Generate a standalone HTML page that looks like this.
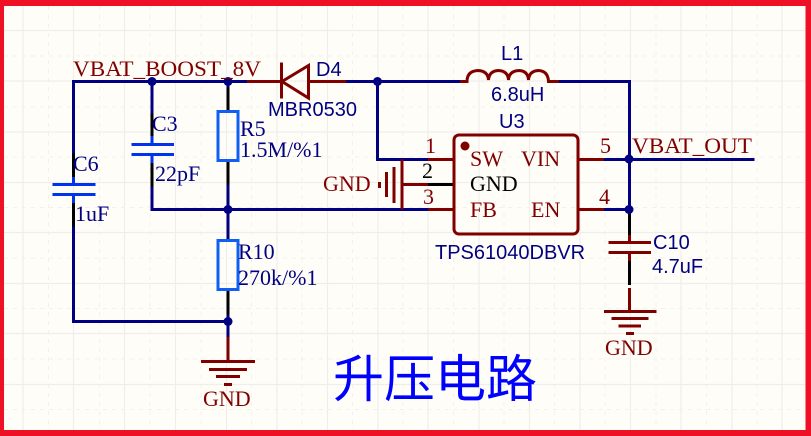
<!DOCTYPE html>
<html><head><meta charset="utf-8">
<style>
html,body{margin:0;padding:0;width:811px;height:436px;overflow:hidden;background:#FFFDF8}
svg{display:block}
.s{font-family:"Liberation Serif",serif;font-size:22px}
.a{font-family:"Liberation Sans",sans-serif;font-size:20px;fill:#000080}
.r{fill:#800000}.b{fill:#000080}
</style></head><body>
<svg width="811" height="436" viewBox="0 0 811 436" xmlns="http://www.w3.org/2000/svg">
<rect width="811" height="436" fill="#FFFDF8"/>
<g stroke="#F2F1EC" stroke-width="1" fill="none" stroke-dasharray="4 5">
<path d="M48.500 6V430M99.500 6V430M150 6V430M201 6V430M251.500 6V430M302 6V430M352.500 6V430M403 6V430M453.500 6V430M504 6V430M554.500 6V430M605 6V430M656 6V430M706.500 6V430M757 6V430"/>
<path d="M4 56H805M4 107H805M4 157H805M4 207.500H805M4 258H805M4 308.500H805M4 359H805M4 409.500H805"/>
</g>
<g stroke="#EFEEEA" stroke-width="1.200" fill="none">
<path d="M23 6V430M73.500 6V430M124.500 6V430M175.500 6V430M226.500 6V430M277 6V430M327.500 6V430M378 6V430M428 6V430M479 6V430M529.500 6V430M580 6V430M630.500 6V430M681 6V430M732 6V430M782 6V430"/>
<path d="M4 30.500H805M4 81H805M4 132H805M4 182.500H805M4 232.500H805M4 283.500H805M4 333.500H805M4 384.500H805"/>
</g>
<!-- black pin segments -->
<g stroke="#000" stroke-width="3" fill="none">
<path d="M73.500 152V183M73.500 197V227"/>
<path d="M152 112V143M152 157V188"/>
<path d="M228 86V111M228 161V186"/>
<path d="M228 237V241M228 290V316"/>
<path d="M629.500 213V241M629.500 260V285"/>
<path d="M428 184.500H454"/>
</g>
<!-- wires -->
<g stroke="#000080" stroke-width="3" fill="none" stroke-linecap="square">
<path d="M73.500 152V81.500H247"/>
<path d="M73.500 228V321.500H228"/>
<path d="M152 81.500V112M152 188V209.500H428"/>
<path d="M228 81.500V86M228 186V237M228 316V337"/>
<path d="M346 81.500H460M377.500 81.500V159.500H428"/>
<path d="M559 81.500H629.500V212"/>
<path d="M604 159.500H753M604 209.500H629.500"/>
</g>
<g fill="#000080">
<circle cx="152" cy="81.500" r="4.500"/><circle cx="228" cy="81.500" r="4.500"/><circle cx="377.500" cy="81.500" r="4.500"/>
<circle cx="228" cy="209.500" r="4.500"/><circle cx="228" cy="321.500" r="4.500"/>
<circle cx="629" cy="159" r="4.500"/><circle cx="629" cy="209.500" r="4.500"/>
</g>
<!-- C6, C3 -->
<g stroke="#0033EE" stroke-width="3" fill="none">
<path d="M52.500 184.500H95.500M52.500 194.500H95.500M73.500 177V184M73.500 195V203"/>
<path d="M131.500 144.500H174M131.500 154.500H174M152 136V144M152 155V163"/>
</g>
<!-- resistors -->
<g stroke="#0F5FF5" stroke-width="3" fill="none">
<rect x="218" y="111.500" width="20" height="49"/>
<rect x="218" y="240.500" width="20" height="49"/>
</g>
<!-- dark red elements -->
<g stroke="#800000" stroke-width="3" fill="none">
<path d="M247 81.500H281.500M309 81.500H346"/>
<path d="M281.500 62.500V98.500M308.500 65.500V98L282 81.500Z"/>
<path d="M460 81.500H467Q467 71 478 70.500Q488 71 488.500 80Q489 71 498.500 70.500Q508 71 508.500 80Q509 71 519 70.500Q528 71 528.500 80Q529 71 538.500 70.500Q548 71 548.500 81.500H559"/>
<rect x="454" y="135" width="124" height="99" rx="5"/>
<path d="M428 159.500H454M428 209.500H454M402 184.500H428"/>
<path d="M578 159.500H604M578 209.500H604"/>
<path d="M402 159.500V209.500"/>
<path d="M394 167V203M379.500 182V188"/>
<path d="M386.500 172V197"/>
<path d="M228 337V360M201 361.500H255M209 369.500H247M216 376.500H240M224 384.500H232"/>
<path d="M629.500 288V312M604 311.500H656.500M611.500 318.500H648.500M618.500 326H641M626 333.500H634"/>
<path d="M608.500 242.500H651M608.500 252.500H651M629.500 235V242M629.500 253V261"/>
</g>
<circle cx="465" cy="146" r="4.500" fill="#800000"/>
<!-- red border -->
<g fill="#EE1126">
<rect x="0" y="0" width="811" height="6"/><rect x="0" y="430" width="811" height="6"/>
<rect x="0" y="0" width="4" height="436"/><rect x="805.500" y="0" width="6" height="436"/>
</g>
<!-- text -->
<text x="73" y="76" class="s r" textLength="188" lengthAdjust="spacingAndGlyphs">VBAT_BOOST_8V</text>
<text x="316" y="76" class="a">D4</text>
<text x="268" y="116" class="a">MBR0530</text>
<text x="152" y="131" class="s b">C3</text>
<text x="155" y="181" class="s b">22pF</text>
<text x="73" y="171" class="s b">C6</text>
<text x="75" y="221" class="s b">1uF</text>
<text x="240" y="136" class="s b">R5</text>
<text x="240" y="157" class="s b">1.5M/%1</text>
<text x="238" y="259" class="s b">R10</text>
<text x="238" y="285" class="s b">270k/%1</text>
<text x="323" y="191" class="s r">GND</text>
<text x="501" y="60" class="a">L1</text>
<text x="491" y="101" class="a">6.8uH</text>
<text x="499" y="128" class="a">U3</text>
<text x="425" y="153" class="s r">1</text>
<text x="422" y="178" class="s" fill="#000">2</text>
<text x="423" y="204" class="s r">3</text>
<text x="600" y="153" class="s r">5</text>
<text x="599" y="204" class="s r">4</text>
<text x="470" y="166" class="s r">SW</text>
<text x="521" y="166" class="s r">VIN</text>
<text x="470" y="191" class="s" fill="#000">GND</text>
<text x="470" y="217" class="s r">FB</text>
<text x="531" y="217" class="s r">EN</text>
<text x="632" y="153" class="s r" textLength="120" lengthAdjust="spacingAndGlyphs">VBAT_OUT</text>
<text x="435" y="259" class="a">TPS61040DBVR</text>
<text x="653" y="249" class="a">C10</text>
<text x="652" y="273" class="a">4.7uF</text>
<text x="203" y="406" class="s r">GND</text>
<text x="605" y="355" class="s r">GND</text>
<text x="333" y="397" font-family="'Liberation Sans','Noto Sans CJK SC',sans-serif" font-size="51" fill="#0000FF">升压电路</text>
</svg>
</body></html>
